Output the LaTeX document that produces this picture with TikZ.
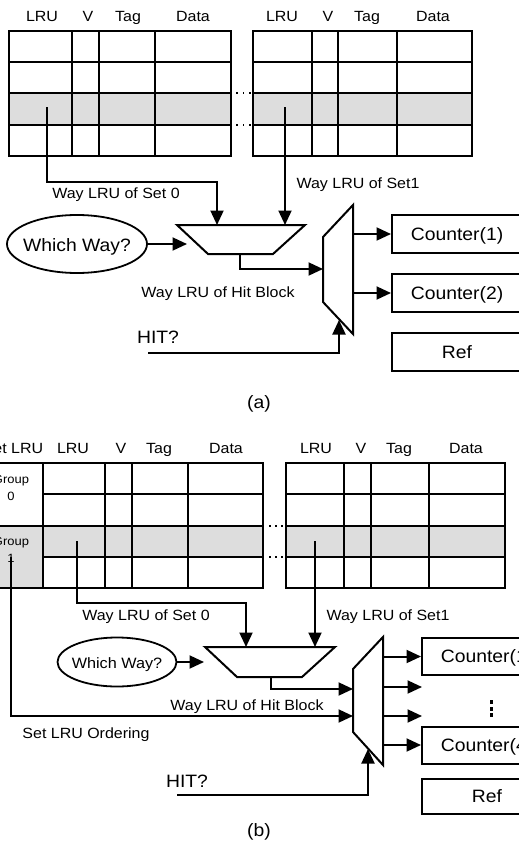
\documentclass[tikz,border=0pt]{standalone}
\usepackage{fontspec}
\setmainfont{Liberation Sans}[FakeStretch=1.08]
\usetikzlibrary{arrows.meta,shapes.geometric}
\definecolor{cellgrey}{RGB}{221,221,221}
\tikzset{
  hdr/.style={anchor=base,inner sep=0pt,font=\fontsize{14.8}{17}\selectfont},
  lbl/.style={anchor=base,inner sep=0pt,font=\fontsize{14.8}{17}\selectfont},
  bigtxt/.style={anchor=base,inner sep=0pt,font=\fontsize{17.9}{21}\selectfont},
  midtxt/.style={anchor=base,inner sep=0pt,font=\fontsize{15}{18}\selectfont},
  grptxt/.style={anchor=base,inner sep=0pt,font=\fontsize{12}{14}\selectfont},
  gridline/.style={line width=1.3pt},
  frameline/.style={line width=2pt},
  wire/.style={line width=2pt,-{Triangle[length=14.5pt,width=13pt]}},
  muxbody/.style={draw,line width=2pt,line join=miter},
  regbox/.style={draw,line width=2pt,minimum width=130pt,inner sep=0pt,
    text height=12.8pt,text depth=0pt,font=\fontsize{17.9}{21}\selectfont},
  oval/.style={draw,ellipse,line width=1.8pt,inner sep=0pt},
}
\begin{document}
\begin{tikzpicture}[x=1pt,y=-1pt]
\useasboundingbox (0,0) rectangle (519,843);
\clip (0,0) rectangle (519,843);

% ================= (a) =================
% left way table
\fill[cellgrey] (9,93) rectangle (231,125);
\foreach \y in {62,93,125} \draw[gridline] (9,\y) -- (231,\y);
\foreach \x in {72,99,155} \draw[gridline] (\x,31) -- (\x,156);
\draw[frameline] (9,31) rectangle (231,156);
\node[hdr] (ha1) at (42,22) {LRU};
\node[hdr] (ha2) at (88,22) {V};
\node[hdr] (ha3) at (128,22) {Tag};
\node[hdr] (ha4) at (193,22) {Data};
% right way table
\fill[cellgrey] (253,93) rectangle (472,125);
\foreach \y in {62,93,125} \draw[gridline] (253,\y) -- (472,\y);
\foreach \x in {312,338,397} \draw[gridline] (\x,31) -- (\x,156);
\draw[frameline] (253,31) rectangle (472,156);
\node[hdr] (ha5) at (282,22) {LRU};
\node[hdr] (ha6) at (328,22) {V};
\node[hdr] (ha7) at (367,22) {Tag};
\node[hdr] (ha8) at (433,22) {Data};
% dots between the tables
\foreach \y in {93,125}
  \foreach \x in {237,243.5,250}
    \fill (\x-0.7,\y-0.7) rectangle (\x+0.7,\y+0.7);

% way selector
\draw[muxbody] (177,225) -- (305,225) -- (273,254) -- (208,254) -- cycle;
\coordinate (m1a-in0) at (217,225);
\coordinate (m1a-in1) at (285,225);
\coordinate (m1a-sel) at (187,244);
\coordinate (m1a-out) at (240,254);
% counter selector
\draw[muxbody] (353,205) -- (353,334) -- (323,302) -- (323,237) -- cycle;
\coordinate (m2a-R) at (353,0);
\coordinate (m2a-in0) at (323,269);
\coordinate (m2a-hit) at (339,320);

\coordinate (s0a) at (47,107);
\coordinate (s1a) at (285,107);
\draw[wire] (s0a) -- ++(0,75) -| (m1a-in0);
\draw[wire] (s1a) -- (m1a-in1);
\node[lbl] (la0) at (116,198) {Way LRU of Set 0};
\node[lbl] (la1) at (358,188) {Way LRU of Set1};

\node[oval,minimum width=140pt,minimum height=58pt] (wwa) at (77,244) {};
\node[bigtxt] (wwat) at (77,251) {Which Way?};
\draw[wire] (wwa.east) -- (m1a-sel);

\draw[wire] (m1a-out) -- ++(0,15) -- (m2a-in0);
\node[lbl] (lha) at (218,297) {Way LRU of Hit Block};

\node[regbox,minimum height=38pt] (c1a) at (457,234) {Counter(1)};
\node[regbox,minimum height=38pt] (c2a) at (457,293) {Counter(2)};
\node[regbox,minimum height=38pt] (refa) at (457,352) {Ref};
\draw[wire] (c1a.west -| m2a-R) -- (c1a.west);
\draw[wire] (c2a.west -| m2a-R) -- (c2a.west);

\node[bigtxt] (hita) at (158,343) {HIT?};
\coordinate (hitaS) at (148,353);
\draw[wire] (hitaS) -| (m2a-hit);

\node[bigtxt,anchor=center] (capa) at (259,404) {(a)};

% ================= (b) =================
% left way table with set-group column
\fill[cellgrey] (43,526) rectangle (263,557);
\fill[cellgrey] (-21,526) rectangle (43,588);
\foreach \y in {494,557} \draw[gridline] (43,\y) -- (263,\y);
\draw[gridline] (-21,526) -- (263,526);
\foreach \x in {43,105,132,188} \draw[gridline] (\x,463) -- (\x,588);
\draw[frameline] (-21,463) rectangle (263,588);
\node[hdr] (hb0) at (13,453) {Set LRU};
\node[hdr] (hb1) at (73,453) {LRU};
\node[hdr] (hb2) at (121,453) {V};
\node[hdr] (hb3) at (159,453) {Tag};
\node[hdr] (hb4) at (226,453) {Data};
\node[grptxt] (g0a) at (11,483) {Group};
\node[grptxt] (g0b) at (11,500) {0};
\node[grptxt] (g1a) at (11,545) {Group};
\node[grptxt] (g1b) at (11,562) {1};
% right way table
\fill[cellgrey] (286,526) rectangle (505,557);
\foreach \y in {494,526,557} \draw[gridline] (286,\y) -- (505,\y);
\foreach \x in {344,371,429} \draw[gridline] (\x,463) -- (\x,588);
\draw[frameline] (286,463) rectangle (505,588);
\node[hdr] (hb5) at (316,453) {LRU};
\node[hdr] (hb6) at (361,453) {V};
\node[hdr] (hb7) at (399,453) {Tag};
\node[hdr] (hb8) at (466,453) {Data};
\foreach \y in {526,557}
  \foreach \x in {270,276,282}
    \fill (\x-0.7,\y-0.7) rectangle (\x+0.7,\y+0.7);

% way selector
\draw[muxbody] (205,647) -- (335,647) -- (302,677) -- (237,677) -- cycle;
\coordinate (m1b-in0) at (246,647);
\coordinate (m1b-in1) at (315,647);
\coordinate (m1b-sel) at (204,662);
\coordinate (m1b-out) at (271,677);
% counter selector
\draw[muxbody] (383,637) -- (383,765) -- (353,732) -- (353,669) -- cycle;
\coordinate (m2b-R) at (383,0);
\coordinate (m2b-in0) at (353,689);
\coordinate (m2b-in1) at (353,716);
\coordinate (m2b-hit) at (368,749);

\coordinate (s0b) at (77,541);
\coordinate (s1b) at (315,541);
\draw[wire] (s0b) -- ++(0,62) -| (m1b-in0);
\draw[wire] (s1b) -- (m1b-in1);
\node[lbl] (lb0) at (146,620) {Way LRU of Set 0};
\node[lbl] (lb1) at (388,620) {Way LRU of Set1};

\node[oval,minimum width=119pt,minimum height=49pt] (wwb) at (117,662) {};
\node[midtxt] (wwbt) at (117,668) {Which Way?};
\draw[wire] (wwb.east) -- (m1b-sel);

\draw[wire] (m1b-out) -- ++(0,12) -- (m2b-in0);
\node[lbl] (lhb) at (247,710) {Way LRU of Hit Block};

\coordinate (g1s) at (11,557);
\draw[wire] (g1s) |- (m2b-in1);
\node[lbl] (lob) at (86,738) {Set LRU Ordering};

\node[regbox,minimum height=37pt] (c1b) at (487,656.5) {Counter(1)};
\node[regbox,minimum height=37pt] (c4b) at (487,745) {Counter(4)};
\node[regbox,minimum height=35pt] (refb) at (487,796) {Ref};
\coordinate (c2b) at (422,687);
\coordinate (c3b) at (422,716);
\draw[wire] (c1b.west -| m2b-R) -- (c1b.west);
\draw[wire] (c2b -| m2b-R) -- (c2b);
\draw[wire] (c3b -| m2b-R) -- (c3b);
\draw[wire] (c4b.west -| m2b-R) -- (c4b.west);
% vertical ellipsis between the counters
\foreach \y in {702,708.5,715}
  \fill (489.5,\y-2) rectangle (492.5,\y+2);

\node[bigtxt] (hitb) at (187,787) {HIT?};
\coordinate (hitbS) at (177,795);
\draw[wire] (hitbS) -| (m2b-hit);

\node[bigtxt,anchor=center] (capb) at (259,832) {(b)};
\end{tikzpicture}
\end{document}
